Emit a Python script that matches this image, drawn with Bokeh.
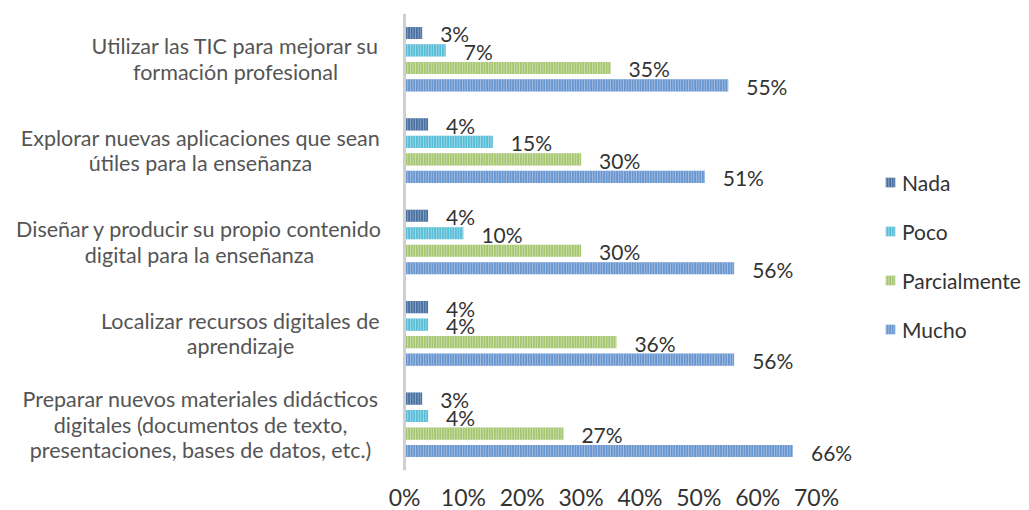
from bokeh.plotting import figure
from bokeh.models import (ColumnDataSource, FactorRange, Range1d, FixedTicker, NumeralTickFormatter,
                          LabelSet, Legend, LegendItem, Span)
from bokeh.transform import dodge
from bokeh.embed import file_html
from bokeh.resources import INLINE
from bokeh.core.properties import value

# ---- data ----
categories = [
    "Utilizar las TIC para mejorar su\nformación profesional",
    "Explorar nuevas aplicaciones que sean\nútiles para la enseñanza",
    "Diseñar y producir su propio contenido\ndigital para la enseñanza",
    "Localizar recursos digitales de\naprendizaje",
    "Preparar nuevos materiales didácticos\ndigitales (documentos de texto,\npresentaciones, bases de datos, etc.)",
]
series = ["Nada", "Poco", "Parcialmente", "Mucho"]
nada = [0.03, 0.04, 0.04, 0.04, 0.03]
poco = [0.07, 0.15, 0.10, 0.04, 0.04]
parcialmente = [0.35, 0.30, 0.30, 0.36, 0.27]
mucho = [0.55, 0.51, 0.56, 0.56, 0.66]
x_ticks = [0, 0.1, 0.2, 0.3, 0.4, 0.5, 0.6, 0.7]

# ---- styling / layout ----
colors = ["#4a70a0", "#58bdd6", "#a6c672", "#6a96d0"]
hatch_colors = ["#a3b8d6", "#b8e5ef", "#dbe9c4", "#b8cdea"]
offsets = [0.287, 0.096, -0.096, -0.287]
cat_label_centres = [-169, -204, -205, -164, -204]   # screen px from the 0 line, centre of each label block
line_step = 25.5
text_color = "#333333"
label_color = "#555555"
font = "Lato"

p = figure(frame_width=1029, frame_height=457, output_backend="svg", toolbar_location=None,
           y_range=FactorRange(factors=list(reversed(categories)), range_padding=0),
           x_range=Range1d(-0.6864, 1.0618),
           min_border_left=0, min_border_top=13, min_border_right=0, min_border_bottom=0)
p.outline_line_color = None
p.grid.grid_line_color = None

source = ColumnDataSource(dict(cat=categories, Nada=nada, Poco=poco, Parcialmente=parcialmente, Mucho=mucho))
for s in series:
    source.data["l" + s] = [f"{round(v * 100)}%" for v in source.data[s]]

# vertical axis line at 0
p.add_layout(Span(location=0, dimension="height", line_color="#d0d0d0", line_width=3))

items = []
for s, c, hc, off in zip(series, colors, hatch_colors, offsets):
    r = p.hbar(y=dodge("cat", off, range=p.y_range), right=s, left=0, height=0.133, source=source,
               fill_color=c, line_color=None, hatch_pattern="vertical_line", hatch_color=hc,
               hatch_scale=2.6, hatch_weight=1, hatch_alpha=0.8)
    items.append(LegendItem(label=s, renderers=[r]))
    p.add_layout(LabelSet(x=s, y=dodge("cat", off, range=p.y_range), text="l" + s, source=source,
                          x_offset=18, y_offset=-1, text_baseline="middle", text_align="left",
                          text_font=value(font), text_font_size="21px",
                          text_color=text_color))

# category labels: one centred text per line, so every line is centred within its block
line_cat, line_text, line_xoff, line_yoff = [], [], [], []
for cat, xc in zip(categories, cat_label_centres):
    lines = cat.split("\n")
    n = len(lines)
    for k, ln in enumerate(lines):
        line_cat.append(cat)
        line_text.append(ln)
        line_xoff.append(xc)
        line_yoff.append(((n - 1) / 2 - k) * line_step)
cat_source = ColumnDataSource(dict(cat=line_cat, txt=line_text, x=[0] * len(line_cat),
                                   xoff=line_xoff, yoff=line_yoff))
p.add_layout(LabelSet(x="x", y="cat", text="txt", source=cat_source, x_offset="xoff", y_offset="yoff",
                      text_align="center", text_baseline="middle",
                      text_font=value(font), text_font_size="21.5px", text_color=label_color))

legend = Legend(items=items, location=(884, 128), padding=0, margin=0, spacing=23,
                glyph_width=12, glyph_height=12, label_height=26, label_standoff=6,
                label_text_font=font, label_text_font_size="21px", label_text_color=text_color,
                border_line_color=None, background_fill_alpha=0)
p.add_layout(legend)

p.xaxis.ticker = FixedTicker(ticks=x_ticks)
p.xaxis.formatter = NumeralTickFormatter(format="0%")
p.xaxis.axis_line_color = None
p.xaxis.major_tick_line_color = None
p.xaxis.minor_tick_line_color = None
p.xaxis.major_label_standoff = 6
p.xaxis.major_label_text_font = font
p.xaxis.major_label_text_font_size = "23px"
p.xaxis.major_label_text_color = text_color
p.yaxis.visible = False

open("out.html", "w").write(file_html(p, INLINE))
